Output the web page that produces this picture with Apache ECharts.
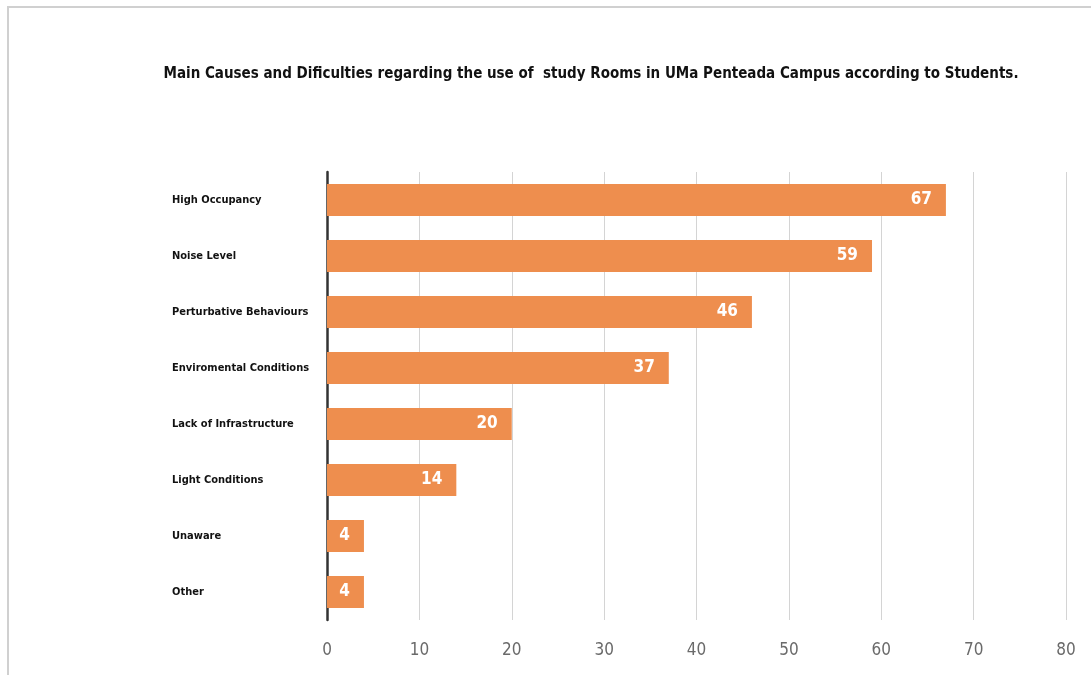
<!DOCTYPE html>
<html>
<head>
<meta charset="utf-8">
<script src="https://cdn.jsdelivr.net/npm/echarts@6/dist/echarts.min.js"></script>
<style>
  html, body { margin: 0; padding: 0; background: #fff; }
  #frame { position: absolute; left: 7px; top: 6px; width: 1100px; height: 700px;
           border-left: 2px solid #d0d0d0; border-top: 2px solid #d0d0d0; }
  #chart { position: absolute; left: 0; top: 0; width: 1091px; height: 675px; }
</style>
</head>
<body>
<div id="frame"></div>
<div id="chart"></div>
<script>
// categories top to bottom
const causes = [
  "High Occupancy",
  "Noise Level",
  "Perturbative Behaviours",
  "Enviromental Conditions",
  "Lack of Infrastructure",
  "Light Conditions",
  "Unaware",
  "Other"
];
const students = [67, 59, 46, 37, 20, 14, 4, 4];
const xTicks = [0, 10, 20, 30, 40, 50, 60, 70, 80];

const chart = echarts.init(document.getElementById("chart"));

chart.setOption({
  animation: false,
  title: {
    text: "Main Causes and Dificulties regarding the use of  study Rooms in UMa Penteada Campus according to Students.",
    left: 586,
    top: 62,
    textAlign: "center",
    textStyle: {
      fontFamily: "DejaVu Sans Condensed",
      fontSize: 15,
      fontWeight: "bold",
      color: "#111"
    }
  },
  grid: { left: 327, right: 25, top: 172, bottom: 55, containLabel: false },
  xAxis: {
    type: "value",
    min: 0,
    max: 80,
    interval: 10,
    axisLine: { show: false },
    axisTick: { show: false },
    splitLine: { show: true, lineStyle: { color: "#d4d4d4", width: 1 } },
    axisLabel: {
      color: "#6a6a6a",
      fontFamily: "DejaVu Sans Condensed",
      fontSize: 17,
      margin: 22,
      formatter: function(v) { return xTicks.indexOf(v) > -1 ? String(v) : ""; }
    }
  },
  yAxis: {
    type: "category",
    inverse: true,
    data: causes,
    axisLine: { show: true, lineStyle: { color: "#333", width: 2.5 } },
    axisTick: { show: false },
    axisLabel: {
      align: "left",
      margin: 155,
      color: "#111",
      fontFamily: "DejaVu Sans Condensed",
      fontWeight: "bold",
      fontSize: 11,
      padding: [0, 0, 6, 0]
    }
  },
  series: [{
    type: "bar",
    data: students,
    barWidth: 32,
    itemStyle: { color: "#EE8E4E" },
    label: {
      show: true,
      position: "insideRight",
      distance: 14,
      color: "#fff",
      fontFamily: "DejaVu Sans Condensed",
      fontWeight: "bold",
      fontSize: 17
    }
  }]
});
</script>
</body>
</html>
